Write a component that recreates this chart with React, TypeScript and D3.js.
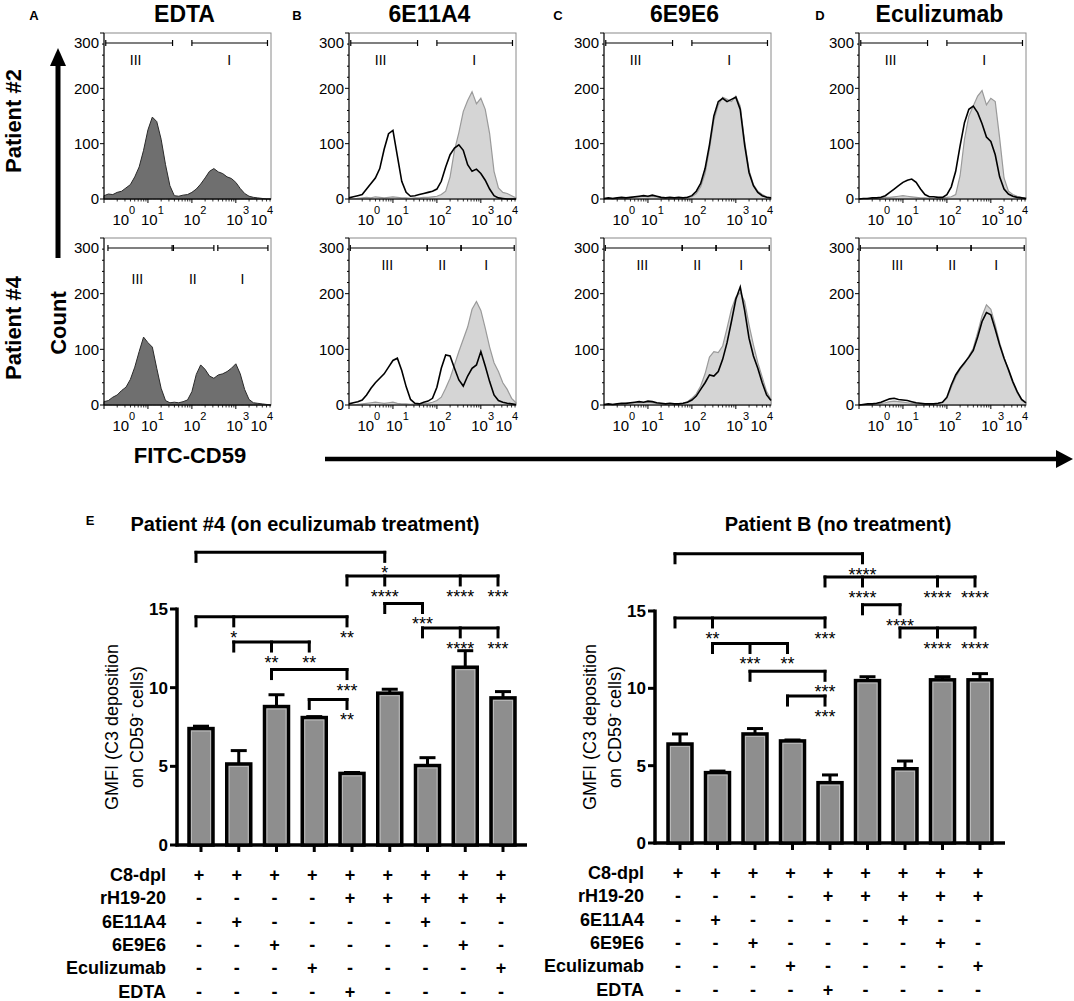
import * as d3 from 'd3'

const FONT = '"Liberation Sans", Arial, Helvetica, sans-serif'

// histogram bins on the log10 FITC-CD59 axis
const bins = [0, 0.1, 0.2, 0.3, 0.4, 0.5, 0.6, 0.7, 0.8, 0.9, 1, 1.1, 1.2, 1.3, 1.4, 1.5, 1.6, 1.7, 1.8, 1.9, 2, 2.1, 2.2, 2.3, 2.4, 2.5, 2.6, 2.7, 2.8, 2.9, 3, 3.1, 3.2, 3.3, 3.4, 3.5, 3.6, 3.7, 3.8]

// counts per bin
const edtaP2 = [6, 9, 8, 12, 14, 20, 26, 40, 58, 88, 125, 148, 140, 108, 62, 24, 6, 5, 7, 8, 12, 18, 27, 38, 50, 55, 49, 46, 40, 37, 30, 19, 10, 5, 3, 2, 1, 0, 0]
const edtaP4 = [6, 8, 14, 18, 26, 32, 46, 68, 96, 122, 112, 104, 66, 30, 8, 4, 5, 4, 6, 9, 24, 55, 72, 64, 52, 48, 54, 56, 60, 66, 74, 56, 28, 10, 4, 3, 2, 1, 0]
const e11P2Black = [2, 4, 6, 8, 18, 28, 38, 55, 90, 118, 124, 78, 32, 12, 5, 6, 8, 10, 12, 14, 18, 32, 58, 80, 92, 98, 88, 62, 50, 54, 46, 34, 18, 6, 2, 1, 0, 0, 0]
const e11P2Grey = [0, 0, 1, 2, 3, 2, 4, 3, 2, 3, 4, 3, 2, 2, 1, 2, 2, 3, 3, 4, 5, 8, 14, 40, 88, 120, 158, 178, 194, 172, 182, 162, 118, 50, 20, 12, 10, 6, 2]
const e11P4Black = [2, 4, 6, 9, 18, 30, 40, 48, 56, 68, 80, 84, 62, 33, 10, 3, 2, 5, 7, 12, 32, 66, 90, 88, 66, 45, 34, 52, 66, 72, 96, 70, 42, 18, 8, 5, 3, 2, 1]
const e11P4Grey = [0, 0, 1, 2, 3, 4, 5, 4, 3, 4, 5, 3, 2, 2, 1, 2, 2, 3, 3, 5, 8, 14, 30, 48, 72, 96, 118, 140, 172, 186, 170, 138, 104, 76, 60, 40, 28, 12, 4]
const e9P2Black = [1, 2, 1, 2, 3, 2, 3, 4, 5, 6, 5, 7, 5, 3, 2, 3, 2, 3, 2, 3, 6, 14, 28, 55, 98, 150, 176, 182, 176, 180, 184, 162, 98, 48, 24, 12, 6, 3, 2]
const e9P2Grey = [0, 1, 1, 2, 2, 2, 3, 3, 4, 5, 4, 5, 4, 2, 2, 2, 2, 2, 2, 3, 4, 10, 22, 46, 90, 142, 170, 184, 180, 176, 186, 168, 104, 52, 26, 14, 8, 4, 2]
const e9P4Black = [1, 2, 1, 2, 3, 3, 4, 5, 6, 5, 7, 6, 4, 3, 2, 3, 2, 2, 3, 5, 9, 16, 28, 40, 54, 52, 60, 82, 112, 150, 190, 212, 170, 120, 88, 66, 40, 18, 8]
const e9P4Grey = [0, 1, 1, 2, 2, 3, 3, 4, 4, 4, 5, 4, 3, 2, 2, 2, 2, 2, 3, 6, 12, 20, 34, 56, 86, 96, 94, 106, 138, 172, 194, 202, 186, 144, 108, 76, 50, 24, 10]
const eculP2Black = [0, 1, 1, 2, 2, 3, 6, 12, 18, 24, 30, 34, 36, 30, 18, 8, 4, 4, 3, 3, 8, 22, 50, 96, 138, 162, 168, 156, 136, 112, 104, 80, 40, 18, 9, 5, 3, 2, 1]
const eculP2Grey = [0, 0, 1, 1, 2, 2, 3, 3, 4, 5, 6, 5, 4, 3, 2, 2, 1, 1, 2, 2, 3, 4, 8, 42, 108, 150, 168, 186, 196, 170, 182, 176, 110, 38, 14, 8, 5, 3, 2]
const eculP4Black = [0, 1, 2, 2, 3, 5, 8, 11, 12, 10, 9, 8, 6, 4, 3, 2, 2, 2, 3, 5, 14, 36, 54, 66, 76, 86, 98, 122, 150, 166, 162, 136, 108, 84, 64, 42, 24, 10, 4]
const eculP4Grey = [0, 1, 1, 2, 2, 3, 4, 6, 7, 6, 5, 4, 3, 3, 2, 2, 2, 2, 3, 5, 12, 32, 50, 64, 74, 88, 102, 130, 160, 180, 172, 144, 112, 86, 62, 40, 22, 9, 3]

const columnTitles = ['EDTA', '6E11A4', '6E9E6', 'Eculizumab']
const panelLetters = ['A', 'B', 'C', 'D']
const countTicks = [0, 100, 200, 300]
const decades = [0, 1, 2, 3, 4]
// where each decade label sits (log units), squeezed at both ends as in the plot
const decadeLabelAt = [0.38, 1.03, 2.0, 2.97, 3.52]

// gates (log units): [name, from, to, label position]
const gatesTwo = [['III', 0.04, 1.56, 0.72], ['I', 2.0, 3.72, 2.85]] as const
const gatesThreeEdta = [['III', 0.09, 1.55, 0.76], ['II', 1.58, 2.5, 2.02], ['I', 2.59, 3.73, 3.15]] as const
const gatesThree = [['III', 0.03, 1.78, 0.87], ['II', 1.78, 2.55, 2.12], ['I', 2.55, 3.76, 3.12]] as const

// panel E
const conditions = ['C8-dpl', 'rH19-20', '6E11A4', '6E9E6', 'Eculizumab', 'EDTA']
const c8dpl = ['+', '+', '+', '+', '+', '+', '+', '+', '+']
const rH1920 = ['-', '-', '-', '-', '+', '+', '+', '+', '+']
const mab6E11A4 = ['-', '+', '-', '-', '-', '-', '+', '-', '-']
const mab6E9E6 = ['-', '-', '+', '-', '-', '-', '-', '+', '-']
const eculizumab = ['-', '-', '-', '+', '-', '-', '-', '-', '+']
const edta = ['-', '-', '-', '-', '+', '-', '-', '-', '-']
const treatmentRows = [c8dpl, rH1920, mab6E11A4, mab6E9E6, eculizumab, edta]

const p4Mean = [7.4, 5.15, 8.8, 8.1, 4.55, 9.65, 5.05, 11.3, 9.35]
const p4Sem = [0.15, 0.85, 0.75, 0.06, 0.06, 0.25, 0.5, 1.05, 0.4]
const pBMean = [6.4, 4.55, 7.05, 6.6, 3.9, 10.5, 4.8, 10.55, 10.55]
const pBSem = [0.65, 0.1, 0.35, 0.06, 0.5, 0.25, 0.5, 0.2, 0.4]

type Bracket = { from: number; to: number[]; stars: string[]; level: number }
const p4Brackets: Bracket[] = [
  { from: 0, to: [5], stars: ['*'], level: 18.6 },
  { from: 4, to: [5, 7, 8], stars: ['****', '****', '***'], level: 17.1 },
  { from: 5, to: [6], stars: ['***'], level: 15.35 },
  { from: 6, to: [7, 8], stars: ['****', '***'], level: 13.8 },
  { from: 0, to: [1, 4], stars: ['*', '**'], level: 14.5 },
  { from: 1, to: [2, 3], stars: ['**', '**'], level: 12.9 },
  { from: 2, to: [4], stars: ['***'], level: 11.15 },
  { from: 3, to: [4], stars: ['**'], level: 9.25 },
]
const pBBrackets: Bracket[] = [
  { from: 0, to: [5], stars: ['****'], level: 18.7 },
  { from: 4, to: [5, 7, 8], stars: ['****', '****', '****'], level: 17.2 },
  { from: 5, to: [6], stars: ['****'], level: 15.4 },
  { from: 6, to: [7, 8], stars: ['****', '****'], level: 13.9 },
  { from: 0, to: [1, 4], stars: ['**', '***'], level: 14.55 },
  { from: 1, to: [2, 3], stars: ['***', '**'], level: 12.9 },
  { from: 2, to: [4], stars: ['***'], level: 11.1 },
  { from: 3, to: [4], stars: ['***'], level: 9.5 },
]
const gmfiTicks = [0, 5, 10, 15]

const HW = 167
const colLeft = [104, 349, 604, 859]

type HistProps = {
  x0: number
  top: number
  bottom: number
  dark?: number[]
  grey?: number[]
  black?: number[]
  gates: readonly (readonly [string, number, number, number])[]
  labelDy: number
}

function Histogram({ x0, top, bottom, dark, grey, black, gates, labelDy }: HistProps) {
  const x = d3.scaleLinear().domain([0, 3.8]).range([x0, x0 + HW])
  const y = d3.scaleLinear().domain([0, 300]).range([bottom, top])
  const area = d3.area<number>().x((_, i) => x(bins[i])).y0(bottom).y1(d => y(d))
  const line = d3.line<number>().x((_, i) => x(bins[i])).y(d => y(d))
  const minor: number[] = []
  for (let d = 0; d < 4; d++) for (let k = 2; k < 10; k++) if (d + Math.log10(k) <= 3.8) minor.push(d + Math.log10(k))
  const gy = top + 10
  return (
    <g>
      <rect x={x0} y={top} width={HW} height={bottom - top} fill="none" stroke="#8a8a8a" strokeWidth={1} />
      {dark && <path d={area(dark) ?? ''} fill="#6f6f6f" stroke="#2a2a2a" strokeWidth={1} />}
      {grey && <path d={area(grey) ?? ''} fill="#d5d5d5" stroke="#9a9a9a" strokeWidth={1.2} />}
      {black && <path d={line(black) ?? ''} fill="none" stroke="#000" strokeWidth={1.6} />}
      {/* y axis */}
      <line x1={x0} x2={x0} y1={top} y2={bottom} stroke="#000" strokeWidth={1} />
      {y.ticks(15).map(t => (
        <line key={t} x1={x0} x2={x0 - (t % 100 === 0 ? 4 : 2)} y1={y(t)} y2={y(t)} stroke="#000" strokeWidth={1} />
      ))}
      {countTicks.map(t => (
        <text key={t} x={x0 - 5} y={y(t) + (t === 300 ? 10 : 0)} dy="0.35em" textAnchor="end" fontSize={15}>
          {t}
        </text>
      ))}
      {/* x axis */}
      <line x1={x0} x2={x0 + HW} y1={bottom} y2={bottom} stroke="#000" strokeWidth={1} />
      {decades.filter(d => d <= 3.8).map(d => (
        <line key={d} x1={x(d)} x2={x(d)} y1={bottom} y2={bottom + 4} stroke="#000" strokeWidth={1} />
      ))}
      {minor.map(m => (
        <line key={m} x1={x(m)} x2={x(m)} y1={bottom} y2={bottom + 2.5} stroke="#000" strokeWidth={0.8} />
      ))}
      {decades.map((d, i) => (
        <text key={d} x={x(decadeLabelAt[i]) - 8.3} y={bottom + 26} fontSize={15}>
          10<tspan dy={-11} fontSize={11}>{d}</tspan>
        </text>
      ))}
      {/* gates */}
      {gates.map(([name, a, b, lp]) => (
        <g key={name}>
          <line x1={x(a)} x2={x(b)} y1={gy} y2={gy} stroke="#000" strokeWidth={1.2} />
          <line x1={x(a)} x2={x(a)} y1={gy - 3} y2={gy + 3} stroke="#000" strokeWidth={1.2} />
          <line x1={x(b)} x2={x(b)} y1={gy - 3} y2={gy + 3} stroke="#000" strokeWidth={1.2} />
          <text x={x(lp)} y={top + labelDy} textAnchor="middle" fontSize={14}>{name}</text>
        </g>
      ))}
    </g>
  )
}

type BarProps = {
  axisX: number
  yBottom: number
  yTop: number
  xFirst: number
  xLast: number
  xEnd: number
  means: number[]
  sems: number[]
  brackets: Bracket[]
  title: string
  titleX: number
  rowY: number
}

function BarPanel({ axisX, yBottom, yTop, xFirst, xLast, xEnd, means, sems, brackets, title, titleX, rowY }: BarProps) {
  const y = d3.scaleLinear().domain([0, 15]).range([yBottom, yTop])
  const x = d3.scalePoint<number>().domain(d3.range(means.length)).range([xFirst, xLast])
  const bx = (i: number) => x(i) ?? 0
  const off = -5
  const bw = 24
  const midY = (yBottom + yTop) / 2
  return (
    <g>
      <text x={titleX} y={531} textAnchor="middle" fontSize={20} fontWeight="bold">{title}</text>
      {/* y label */}
      <text transform={`translate(${axisX - 59},${midY}) rotate(-90)`} textAnchor="middle" fontSize={18}>
        GMFI (C3 deposition
      </text>
      <text transform={`translate(${axisX - 34},${midY}) rotate(-90)`} textAnchor="middle" fontSize={18}>
        on CD59<tspan dy={-7} fontSize={12}>-</tspan><tspan dy={7}> cells)</tspan>
      </text>
      {/* bars */}
      {means.map((m, i) => (
        <g key={i}>
          <line x1={bx(i)} x2={bx(i)} y1={y(m)} y2={y(m + sems[i])} stroke="#000" strokeWidth={3} />
          <line x1={bx(i) - 8} x2={bx(i) + 8} y1={y(m + sems[i])} y2={y(m + sems[i])} stroke="#000" strokeWidth={3} />
          <rect x={bx(i) - bw / 2} y={y(m)} width={bw} height={yBottom - y(m)} fill="#8e8e8e" stroke="#000" strokeWidth={3.5} />
          <rect x={bx(i) - bw / 2 + 2.5} y={y(m) + 2.5} width={bw - 5} height={Math.max(0, yBottom - y(m) - 4)} fill="none" stroke="#b9b9b9" strokeWidth={1} />
        </g>
      ))}
      {/* axes */}
      <line x1={axisX} x2={axisX} y1={yBottom + 1.5} y2={y(15) - 1.5} stroke="#000" strokeWidth={3.5} />
      {gmfiTicks.map(t => (
        <g key={t}>
          <line x1={axisX} x2={axisX - 7} y1={y(t)} y2={y(t)} stroke="#000" strokeWidth={3} />
          <text x={axisX - 9} y={y(t)} dy="0.35em" textAnchor="end" fontSize={17} fontWeight="bold">{t}</text>
        </g>
      ))}
      <line x1={axisX - 1.5} x2={xEnd} y1={yBottom} y2={yBottom} stroke="#000" strokeWidth={3.5} />
      {means.map((_, i) => (
        <line key={i} x1={bx(i)} x2={bx(i)} y1={yBottom} y2={yBottom + 7} stroke="#000" strokeWidth={3} />
      ))}
      {/* significance brackets */}
      {brackets.map((b, k) => {
        const yl = y(b.level)
        const xs = [b.from, ...b.to].map(i => bx(i) + off)
        const x1 = d3.min(xs) ?? 0
        const x2 = d3.max(xs) ?? 0
        return (
          <g key={k}>
            <line x1={x1} x2={x2} y1={yl} y2={yl} stroke="#000" strokeWidth={3} strokeLinecap="square" />
            {xs.map((xx, j) => (
              <line key={j} x1={xx} x2={xx} y1={yl} y2={yl + 9} stroke="#000" strokeWidth={3} strokeLinecap="square" />
            ))}
            {b.to.map((t, j) => (
              <text key={j} x={bx(t) + off} y={yl + 27} textAnchor="middle" fontSize={18}>{b.stars[j]}</text>
            ))}
          </g>
        )
      })}
      {/* treatment table */}
      {conditions.map((c, r) => (
        <g key={c}>
          <text x={axisX - 11} y={rowY + r * 23.3} textAnchor="end" fontSize={18} fontWeight="bold">{c}</text>
          {treatmentRows[r].map((s, i) => (
            <text key={i} x={bx(i) - 2} y={rowY + r * 23.3} textAnchor="middle" fontSize={18} fontWeight="bold">{s}</text>
          ))}
        </g>
      ))}
    </g>
  )
}

export default function App() {
  const topRow = [
    { dark: edtaP2 },
    { grey: e11P2Grey, black: e11P2Black },
    { grey: e9P2Grey, black: e9P2Black },
    { grey: eculP2Grey, black: eculP2Black },
  ]
  const bottomRow = [
    { dark: edtaP4 },
    { grey: e11P4Grey, black: e11P4Black },
    { grey: e9P4Grey, black: e9P4Black },
    { grey: eculP4Grey, black: eculP4Black },
  ]
  const letterX = [34, 297, 558, 820]
  return (
    <svg
      width={1074}
      height={1001}
      viewBox="0 0 1074 1001"
      style={{ position: 'absolute', left: 0, top: 0 }}
      fontFamily={FONT}
    >
      <rect width={1074} height={1001} fill="#fff" />
      {columnTitles.map((t, i) => (
        <g key={t}>
          <text x={letterX[i]} y={20} textAnchor="middle" fontSize={13} fontWeight="bold">{panelLetters[i]}</text>
          <text x={colLeft[i] + HW / 2 - 3} y={22} textAnchor="middle" fontSize={23} fontWeight="bold">{t}</text>
        </g>
      ))}
      {topRow.map((p, i) => (
        <Histogram key={`t${i}`} x0={colLeft[i]} top={33} bottom={199} {...p} gates={gatesTwo} labelDy={32} />
      ))}
      {bottomRow.map((p, i) => (
        <Histogram
          key={`b${i}`}
          x0={colLeft[i]}
          top={238}
          bottom={405}
          {...p}
          gates={i === 0 ? gatesThreeEdta : gatesThree}
          labelDy={i === 0 ? 46 : 32}
        />
      ))}
      {/* row labels and arrows */}
      <text transform="translate(21,121) rotate(-90)" textAnchor="middle" fontSize={22} fontWeight="bold">Patient #2</text>
      <text transform="translate(21,328) rotate(-90)" textAnchor="middle" fontSize={22} fontWeight="bold">Patient #4</text>
      <text transform="translate(66,323) rotate(-90)" textAnchor="middle" fontSize={22} fontWeight="bold">Count</text>
      <line x1={58} x2={58} y1={258} y2={64} stroke="#000" strokeWidth={5} />
      <polygon points="50,66 66,66 58,48" fill="#000" />
      <text x={190} y={463} textAnchor="middle" fontSize={22} fontWeight="bold">FITC-CD59</text>
      <line x1={325} x2={1058} y1={459} y2={459} stroke="#000" strokeWidth={4.5} />
      <polygon points="1056,450 1056,468 1073,459" fill="#000" />
      {/* panel E */}
      <text x={90} y={525} textAnchor="middle" fontSize={13} fontWeight="bold">E</text>
      <BarPanel
        axisX={177}
        yBottom={845}
        yTop={609}
        xFirst={201}
        xLast={503}
        xEnd={527}
        means={p4Mean}
        sems={p4Sem}
        brackets={p4Brackets}
        title="Patient #4 (on eculizumab treatment)"
        titleX={305}
        rowY={881}
      />
      <BarPanel
        axisX={655}
        yBottom={843}
        yTop={611}
        xFirst={680}
        xLast={980}
        xEnd={1005}
        means={pBMean}
        sems={pBSem}
        brackets={pBBrackets}
        title="Patient B (no treatment)"
        titleX={838}
        rowY={879}
      />
    </svg>
  )
}
